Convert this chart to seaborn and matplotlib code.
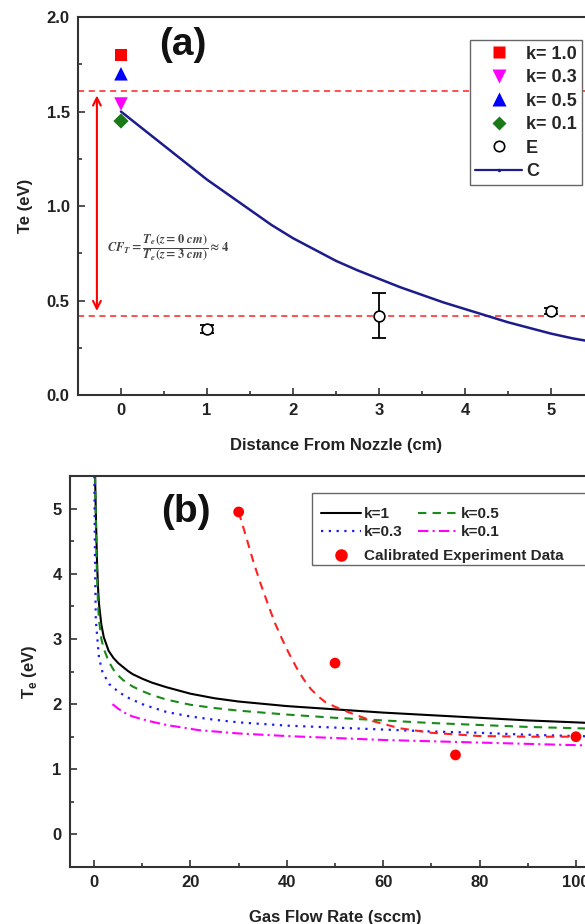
import numpy as np
import pandas as pd
import seaborn as sns
import matplotlib.pyplot as plt
from matplotlib.lines import Line2D
from matplotlib.patches import Rectangle
from matplotlib.ticker import MultipleLocator

# ---- panel (a): Te vs distance from nozzle ----
k_labels_a = ['k= 1.0', 'k= 0.3', 'k= 0.5', 'k= 0.1']
k_te_a = [1.80, 1.54, 1.70, 1.45]
k_dist_a = [0, 0, 0, 0]

exp_dist = [1, 3, 5]
exp_te = [0.35, 0.42, 0.445]
exp_err = [0.02, 0.12, 0.015]

calc_dist = [0, 0.25, 0.5, 0.75, 1, 1.25, 1.5, 1.75, 2, 2.25, 2.5, 2.75, 3,
             3.25, 3.5, 3.75, 4, 4.25, 4.5, 4.75, 5, 5.25, 5.5]
calc_te = [1.50, 1.41, 1.32, 1.23, 1.14, 1.06, 0.98, 0.90, 0.83, 0.77, 0.71, 0.66, 0.615,
           0.57, 0.53, 0.49, 0.455, 0.42, 0.385, 0.355, 0.325, 0.30, 0.28]

ref_lines = [1.61, 0.42]

# ---- panel (b): Te vs gas flow rate ----
k1_flow = [0.2, 0.4, 0.6, 0.8, 1.0, 1.5, 2, 3, 4, 5, 6, 7, 8, 10, 12, 15, 20, 25, 30, 40, 50, 60, 70, 80, 90, 100, 106]
k1_te = [5.5, 4.8, 4.2, 3.8, 3.55, 3.22, 3.03, 2.82, 2.71, 2.63, 2.57, 2.51, 2.46, 2.39, 2.33, 2.26, 2.16, 2.09, 2.04, 1.97, 1.92, 1.87, 1.83, 1.79, 1.75, 1.72, 1.70]

k05_flow = [0.2, 0.4, 0.6, 0.8, 1.0, 1.5, 2, 3, 4, 5, 6, 8, 10, 12, 15, 20, 25, 30, 40, 50, 60, 70, 80, 90, 100, 106]
k05_te = [5.5, 4.6, 3.95, 3.55, 3.3, 3.0, 2.85, 2.66, 2.53, 2.44, 2.37, 2.27, 2.20, 2.14, 2.07, 1.99, 1.94, 1.90, 1.84, 1.79, 1.75, 1.71, 1.68, 1.65, 1.63, 1.62]

k03_flow = [0.05, 0.15, 0.25, 0.35, 0.7, 1.0, 1.7, 3.1, 5.2, 7.3, 10, 12, 15, 20, 25, 30, 40, 50, 60, 70, 80, 90, 100, 106]
k03_te = [5.5, 4.5, 3.8, 3.29, 2.98, 2.72, 2.50, 2.31, 2.18, 2.09, 2.00, 1.95, 1.88, 1.81, 1.76, 1.72, 1.67, 1.64, 1.61, 1.58, 1.56, 1.53, 1.51, 1.50]

k01_flow = [3.8, 5, 6.5, 8, 11.4, 15, 21.8, 30, 40, 50, 60, 70, 80, 90, 100, 106]
k01_te = [2.0, 1.93, 1.86, 1.81, 1.74, 1.68, 1.60, 1.55, 1.51, 1.48, 1.45, 1.43, 1.41, 1.39, 1.37, 1.36]

fit_flow = [30, 31.5, 33, 34.5, 36, 37.5, 39, 40.5, 42, 43.5, 45, 46.5, 48, 50, 53, 57.8, 63.4, 70, 80, 90, 100]
fit_te = [4.95, 4.58, 4.2, 3.86, 3.55, 3.25, 3.0, 2.77, 2.56, 2.38, 2.23, 2.12, 2.03, 1.96, 1.87, 1.74, 1.63, 1.56, 1.51, 1.50, 1.50]

cal_flow = [30, 50, 75, 100]
cal_te = [4.95, 2.63, 1.22, 1.50]

sns.set_theme(style='ticks')
plt.rcParams['font.family'] = ['Liberation Sans', 'DejaVu Sans']
plt.rcParams['font.weight'] = 'bold'
plt.rcParams['axes.labelweight'] = 'bold'

fig = plt.figure(figsize=(5.85, 9.24), dpi=100)
ax1 = fig.add_axes([0.1333, 0.5725, 0.882, 0.409])
ax2 = fig.add_axes([0.1197, 0.0617, 0.906, 0.423])

spine_col = '#333333'
for ax in (ax1, ax2):
    for s in ax.spines.values():
        s.set_color(spine_col)
        s.set_linewidth(1.5)
    ax.tick_params(which='both', direction='in', top=False, right=False,
                   color=spine_col, width=1.2, labelsize=12, labelcolor='#222222', pad=6)
    ax.tick_params(which='major', length=5)
    ax.tick_params(which='minor', length=3)

# ---------- panel (a) ----------
for y in ref_lines:
    ax1.axhline(y, color='#ff2020', ls=(0, (4, 3)), lw=1.1, zorder=1)

sns.lineplot(x=calc_dist, y=calc_te, ax=ax1, color='#1c1c8c', lw=1.8,
             estimator=None, sort=False, zorder=3)

ax1.errorbar(exp_dist, exp_te, yerr=exp_err, fmt='none', ecolor='black',
             elinewidth=1.3, capsize=5, capthick=1.3, zorder=4)
sns.scatterplot(x=exp_dist, y=exp_te, ax=ax1, marker='o', s=60,
                facecolor='white', edgecolor='black', linewidth=1.2, zorder=5)

markers_a = ['s', 'v', '^', 'D']
colors_a = ['#ff0000', '#ff00ff', '#0000ff', '#1a7a1a']
sizes_a = [75, 95, 95, 60]
for xv, yv, m, c, sz in zip(k_dist_a, k_te_a, markers_a, colors_a, sizes_a):
    sns.scatterplot(x=[xv], y=[yv], ax=ax1, marker=m, color=c, s=sz,
                    edgecolor='none', zorder=6)

ax1.annotate('', xy=(-0.28, 0.43), xytext=(-0.28, 1.60),
             arrowprops=dict(arrowstyle='<->', color='red', lw=1.5,
                             mutation_scale=14))
ax1.text(0.55, 0.78, r'$CF_T=\dfrac{T_e(z=0\ cm)}{T_e(z=3\ cm)}\approx 4$',
         math_fontfamily='stix', fontsize=9, color='#444444',
         ha='center', va='center')
ax1.text(0.72, 1.85, '(a)', fontsize=28, fontweight='bold', ha='center',
         va='center', color='#111111')

ax1.set_xlim(-0.5, 5.5)
ax1.set_ylim(0, 2.0)
ax1.xaxis.set_minor_locator(MultipleLocator(0.5))
ax1.yaxis.set_minor_locator(MultipleLocator(0.25))
ax1.set_xticks([0, 1, 2, 3, 4, 5])
ax1.set_yticks([0.0, 0.5, 1.0, 1.5, 2.0])
ax1.set_yticklabels(['0.0', '0.5', '1.0', '1.5', '2.0'])
ax1.set_xlabel('Distance From Nozzle (cm)', fontsize=12, labelpad=14, color='#222222')
ax1.set_ylabel('Te (eV)', fontsize=12, labelpad=10, color='#222222')

handles_a = [Line2D([], [], ls='none', marker=m, color=c, markersize=ms, markeredgecolor='none')
             for m, c, ms in zip(markers_a, colors_a, [8, 9.5, 9.5, 7])]
handles_a.append(Line2D([], [], ls='none', marker='o', markersize=7.5,
                        markerfacecolor='white', markeredgecolor='black', markeredgewidth=1.2))
handles_a.append(Line2D([], [], color='#1c1c8c', lw=1.6, marker='.', markersize=3))
leg_a = ax1.legend(handles_a, k_labels_a + ['E', 'C'], loc='upper right',
                   bbox_to_anchor=(0.977, 0.939), borderaxespad=0, fontsize=13,
                   labelspacing=0.36, handlelength=2.6, handletextpad=0.2,
                   borderpad=0.3, fancybox=False, framealpha=1, edgecolor='#666666')
leg_a.get_frame().set_linewidth(1.0)

# ---------- panel (b) ----------
sns.lineplot(x=k1_flow, y=k1_te, ax=ax2, color='black', lw=1.5,
             estimator=None, sort=False)
sns.lineplot(x=k05_flow, y=k05_te, ax=ax2, color='#1a8a1a', lw=1.5,
             linestyle=(0, (4, 3)), estimator=None, sort=False)
sns.lineplot(x=k03_flow, y=k03_te, ax=ax2, color='#1a1aff', lw=1.6,
             linestyle=(0, (1, 2.5)), estimator=None, sort=False)
sns.lineplot(x=k01_flow, y=k01_te, ax=ax2, color='#ff00ff', lw=1.5,
             linestyle=(0, (5, 2, 1, 2)), estimator=None, sort=False)
sns.lineplot(x=fit_flow, y=fit_te, ax=ax2, color='#ff2020', lw=1.5,
             linestyle=(0, (4, 3)), estimator=None, sort=False)
sns.scatterplot(x=cal_flow, y=cal_te, ax=ax2, color='#ff0000', s=60,
                edgecolor='none', zorder=5)

ax2.text(19.1, 4.95, '(b)', fontsize=28, fontweight='bold', ha='center',
         va='center', color='#111111')

ax2.set_xlim(-5, 105)
ax2.set_ylim(-0.5, 5.5)
ax2.set_xticks([0, 20, 40, 60, 80, 100])
ax2.xaxis.set_minor_locator(MultipleLocator(10))
ax2.set_yticks([0, 1, 2, 3, 4, 5])
ax2.yaxis.set_minor_locator(MultipleLocator(0.5))
ax2.set_xlabel('Gas Flow Rate (sccm)', fontsize=12, labelpad=14, color='#222222')
ax2.set_ylabel(r'T$_\mathregular{e}$ (eV)', fontsize=12, labelpad=10, color='#222222')

h_k1 = Line2D([], [], color='black', lw=1.5)
h_k05 = Line2D([], [], color='#1a8a1a', lw=1.5, ls=(0, (4, 3)))
h_k03 = Line2D([], [], color='#1a1aff', lw=1.6, ls=(0, (1, 2.5)))
h_k01 = Line2D([], [], color='#ff00ff', lw=1.5, ls=(0, (5, 2, 1, 2)))
h_cal = Line2D([], [], ls='none', marker='o', color='#ff0000', markersize=8)

leg_b1 = ax2.legend([h_k1, h_k03, h_k05, h_k01], ['k=1', 'k=0.3', 'k=0.5', 'k=0.1'],
                    ncol=2, loc='center left', bbox_to_anchor=(0.468, 0.880),
                    borderaxespad=0, borderpad=0.2, frameon=False, fontsize=11,
                    handlelength=2.6, handletextpad=0.2, columnspacing=1.0,
                    labelspacing=0.25)
ax2.add_artist(leg_b1)
ax2.legend([h_cal], ['Calibrated Experiment Data'], loc='center left',
           bbox_to_anchor=(0.468, 0.795), borderaxespad=0, borderpad=0.2,
           frameon=False, fontsize=11, handlelength=2.6, handletextpad=0.2)
ax2.add_patch(Rectangle((0.457, 0.772), 0.6, 0.185, transform=ax2.transAxes,
                        fill=False, edgecolor='#666666', lw=1.0, clip_on=False,
                        zorder=10))

fig.savefig('out.png', dpi=100)
